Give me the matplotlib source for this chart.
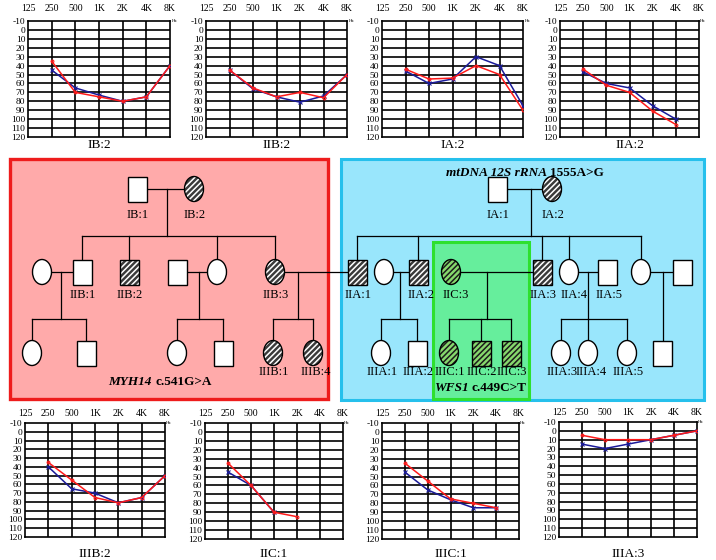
import numpy as np
import matplotlib.pyplot as plt
from matplotlib.patches import Rectangle, Ellipse

plt.rcParams['font.family'] = ['Liberation Serif', 'DejaVu Serif']
plt.rcParams['hatch.linewidth'] = 1.1

W, H = 716, 560
nan = np.nan

# 1. Audiogram data (dB HL at 125, 250, 500, 1K, 2K, 4K, 8K)

freq_labels = ['125', '250', '500', '1K', '2K', '4K', '8K']
db_ticks = list(range(-10, 121, 10))

IB2_red = [nan, 35, 70, 75, 80, 75, 40]
IB2_blue = [nan, 45, 65, 73, 80, 75, 40]
IIB2_red = [nan, 45, 65, 75, 70, 76, 50]
IIB2_blue = [nan, 45, 66, 75, 81, 74, 50]
IA2_red = [nan, 44, 55, 54, 40, 50, 90]
IA2_blue = [nan, 46, 60, 55, 30, 40, 85]
IIA2_red = [nan, 44, 62, 70, 91, 106, nan]
IIA2_blue = [nan, 47, 60, 65, 85, 100, nan]
IIIB2_red = [nan, 35, 55, 75, 81, 75, 50]
IIIB2_blue = [nan, 40, 65, 70, 81, 75, 50]
IIC1_red = [nan, 35, 60, 90, 95, nan, nan]
IIC1_blue = [nan, 45, 60, 90, nan, nan, nan]
IIIC1_red = [nan, 35, 55, 75, 80, 85, nan]
IIIC1_blue = [nan, 45, 65, 76, 85, 85, nan]
IIIA3_red = [nan, 5, 10, 10, 10, 5, 0]
IIIA3_blue = [nan, 15, 20, 15, 10, 5, 0]

panel_names = ['IB:2', 'IIB:2', 'IA:2', 'IIA:2', 'IIIB:2', 'IIC:1', 'IIIC:1', 'IIIA:3']
panel_red = [IB2_red, IIB2_red, IA2_red, IIA2_red, IIIB2_red, IIC1_red, IIIC1_red, IIIA3_red]
panel_blue = [IB2_blue, IIB2_blue, IA2_blue, IIA2_blue, IIIB2_blue, IIC1_blue, IIIC1_blue, IIIA3_blue]

# grid boxes in pixels: left, top, right, bottom ; label y ; tick label pad
panel_boxes = [(28, 21, 170, 137), (206, 21, 347, 137), (382, 21, 523, 137), (560, 21, 699, 137),
               (25, 423, 165, 537), (205, 423, 343, 539), (382, 423, 519, 539), (559, 422, 697, 537)]
panel_label_y = [145, 145, 145, 145, 554, 554, 554, 554]
panel_pad = [5.5, 5.5, 5.5, 5.5, 3.8, 3.8, 3.8, 3.8]

# 2. Pedigree members: name -> (sex, status, label)

members = {
    'IB1': ('M', 'n', 'IB:1'), 'IB2': ('F', 'a', 'IB:2'),
    'b_sp1': ('F', 'n', ''), 'IIB1': ('M', 'n', 'IIB:1'), 'IIB2': ('M', 'a', 'IIB:2'),
    'b_sp2': ('M', 'n', ''), 'b_d': ('F', 'n', ''), 'IIB3': ('F', 'a', 'IIB:3'),
    'b_c1': ('F', 'n', ''), 'b_c2': ('M', 'n', ''), 'b_c3': ('F', 'n', ''), 'b_c4': ('M', 'n', ''),
    'IIIB1': ('F', 'a', 'IIIB:1'), 'IIIB4': ('F', 'a', 'IIIB:4'),
    'IA1': ('M', 'n', 'IA:1'), 'IA2': ('F', 'a', 'IA:2'),
    'IIA1': ('M', 'a', 'IIA:1'), 'a_sp1': ('F', 'n', ''), 'IIA2': ('M', 'a', 'IIA:2'),
    'IIC3': ('F', 'g', 'IIC:3'), 'IIA3': ('M', 'a', 'IIA:3'), 'IIA4': ('F', 'n', 'IIA:4'),
    'IIA5': ('M', 'n', 'IIA:5'), 'a_d': ('F', 'n', ''), 'a_sp2': ('M', 'n', ''),
    'IIIA1': ('F', 'n', 'IIIA:1'), 'IIIA2': ('M', 'n', 'IIIA:2'),
    'IIIC1': ('F', 'g', 'IIIC:1'), 'IIIC2': ('M', 'g', 'IIIC:2'), 'IIIC3': ('M', 'g', 'IIIC:3'),
    'IIIA3': ('F', 'n', 'IIIA:3'), 'IIIA4': ('F', 'n', 'IIIA:4'), 'IIIA5': ('F', 'n', 'IIIA:5'),
    'a_c': ('M', 'n', ''),
}

# couples and their children
families = [
    ('IB1', 'IB2', ['IIB1', 'IIB2', 'b_d', 'IIB3']),
    ('b_sp1', 'IIB1', ['b_c1', 'b_c2']),
    ('b_sp2', 'b_d', ['b_c3', 'b_c4']),
    ('IIB3', 'IIA1', ['IIIB1', 'IIIB4']),
    ('IA1', 'IA2', ['IIA1', 'IIA2', 'IIA3', 'IIA4', 'a_d']),
    ('a_sp1', 'IIA2', ['IIIA1', 'IIIA2']),
    ('IIC3', 'IIA3', ['IIIC1', 'IIIC2', 'IIIC3']),
    ('IIA4', 'IIA5', ['IIIA3', 'IIIA4', 'IIIA5']),
    ('a_d', 'a_sp2', ['a_c']),
]

# layout (pixels)
gen_y = [189, 272, 353]
label_dy = [26, 23, 19]
pos = {
    'IB1': (137, 0), 'IB2': (194, 0),
    'b_sp1': (42, 1), 'IIB1': (82, 1), 'IIB2': (129, 1), 'b_sp2': (177, 1), 'b_d': (217, 1), 'IIB3': (275, 1),
    'b_c1': (32, 2), 'b_c2': (86, 2), 'b_c3': (177, 2), 'b_c4': (223, 2), 'IIIB1': (273, 2), 'IIIB4': (313, 2),
    'IA1': (497, 0), 'IA2': (552, 0),
    'IIA1': (357, 1), 'a_sp1': (384, 1), 'IIA2': (418, 1), 'IIC3': (451, 1), 'IIA3': (542, 1),
    'IIA4': (569, 1), 'IIA5': (607, 1), 'a_d': (641, 1), 'a_sp2': (682, 1),
    'IIIA1': (381, 2), 'IIIA2': (417, 2), 'IIIC1': (449, 2), 'IIIC2': (481, 2), 'IIIC3': (511, 2),
    'IIIA3': (561, 2), 'IIIA4': (588, 2), 'IIIA5': (627, 2), 'a_c': (662, 2),
}
label_dx = {'IIA:2': 2, 'IIC:3': 4, 'IIA:4': 4, 'IIA:5': 1, 'IIIA:4': 2, 'IIIB:4': 2}
descent_x = [167, 61, 199, 298, 531, 400, 487, 588, 663]
sib_y = [236, 319]
SW, SH = 19, 25


def symbol(ax, x, y, sex, status):
    def make(**kw):
        if sex == 'M':
            return Rectangle((x - SW / 2, y - SH / 2), SW, SH, **kw)
        return Ellipse((x, y), SW, SH, **kw)
    if status == 'a':
        ax.add_patch(make(fc='#3a3a3a', ec='white', hatch='//////', lw=0, zorder=3))
    elif status == 'g':
        ax.add_patch(make(fc='#86d86c', ec='#1c1c1c', hatch='//////', lw=0, zorder=3))
    else:
        ax.add_patch(make(fc='white', lw=0, zorder=3))
    ax.add_patch(make(fill=False, ec='black', lw=1, zorder=4))


def px(x, y):
    return x / W, 1 - y / H


fig = plt.figure(figsize=(W / 100, H / 100), dpi=100)

# 3. Pedigree

ax = fig.add_axes([0, 0, 1, 1])
ax.set_xlim(0, W)
ax.set_ylim(H, 0)
ax.axis('off')

ax.add_patch(Rectangle((10, 159), 318, 240, fc='#ffaaaa', ec='#ee1c1c', lw=2.4, zorder=0))
ax.add_patch(Rectangle((341, 159), 363, 241, fc='#99e6fc', ec='#26c0ec', lw=2.2, zorder=0))
ax.add_patch(Rectangle((433, 242), 96, 157, fc='#66ee9c', ec='#2ee02e', lw=2.2, zorder=1))

for (a, b, kids), dx in zip(families, descent_x):
    xa, ga = pos[a]
    xb, _ = pos[b]
    y0 = gen_y[ga]
    ax.plot([xa, xb], [y0, y0], color='black', lw=0.9, zorder=2)
    sy = sib_y[ga]
    kx = [pos[k][0] for k in kids]
    ky = gen_y[pos[kids[0]][1]] - SH / 2
    if len(kids) == 1:
        ax.plot([dx, dx], [y0, ky], color='black', lw=0.9, zorder=2)
        continue
    ax.plot([dx, dx], [y0, sy], color='black', lw=0.9, zorder=2)
    ax.plot([min(kx + [dx]), max(kx + [dx])], [sy, sy], color='black', lw=0.9, zorder=2)
    for k in kx:
        ax.plot([k, k], [sy, ky], color='black', lw=0.9, zorder=2)

for name, (sex, status, label) in members.items():
    x, g = pos[name]
    y = gen_y[g]
    symbol(ax, x, y, sex, status)
    if label:
        ax.text(x + 1 + label_dx.get(label, 0), y + label_dy[g], label,
                ha='center', va='center', fontsize=9, zorder=5)

ax.text(152, 382, 'MYH14', ha='right', va='center', fontsize=9.5, fontweight='bold', style='italic')
ax.text(155, 382, 'c.541G>A', ha='left', va='center', fontsize=9.5, fontweight='bold')
ax.text(469, 388, 'WFS1', ha='right', va='center', fontsize=9.5, fontweight='bold', style='italic')
ax.text(472, 388, 'c.449C>T', ha='left', va='center', fontsize=9.5, fontweight='bold')
ax.text(547, 173, 'mtDNA 12S rRNA', ha='right', va='center', fontsize=9.5, fontweight='bold', style='italic')
ax.text(550, 173, '1555A>G', ha='left', va='center', fontsize=9.5, fontweight='bold')

# 4. Audiograms

for name, red, blue, (x0, y0, x1, y1), ly, pad in zip(panel_names, panel_red, panel_blue,
                                                       panel_boxes, panel_label_y, panel_pad):
    l, b = px(x0, y1)
    a = fig.add_axes([l, b, (x1 - x0) / W, (y1 - y0) / H])
    a.set_xlim(0, 6)
    a.set_ylim(120, -10)
    for xv in range(1, 6):
        a.axvline(xv, color='black', lw=1.2)
    for yv in range(0, 120, 10):
        a.axhline(yv, color='black', lw=1.2)
    for s in a.spines.values():
        s.set_linewidth(1.2)
    a.xaxis.tick_top()
    a.set_xticks(range(7))
    a.set_xticklabels(freq_labels, fontsize=7)
    a.set_yticks(db_ticks)
    a.set_yticklabels([str(v) for v in db_ticks], fontsize=6.8)
    a.tick_params(axis='x', length=0, pad=pad)
    a.tick_params(axis='y', length=0, pad=2)
    xs = np.arange(7)
    a.plot(xs, blue, color='#1a1a9a', lw=1.1, marker='x', ms=2.5, mew=0.8, zorder=3)
    a.plot(xs, red, color='#ff1a1a', lw=1.1, marker='o', ms=2, mfc='none', mew=0.8, zorder=4)
    a.text(1.01, 1.0, 'Hz', transform=a.transAxes, fontsize=3.5, ha='left', va='center')
    fx, fy = px((x0 + x1) / 2, ly)
    fig.text(fx, fy, name, ha='center', va='center', fontsize=9.5)

fig.savefig('out.png', dpi=100)
